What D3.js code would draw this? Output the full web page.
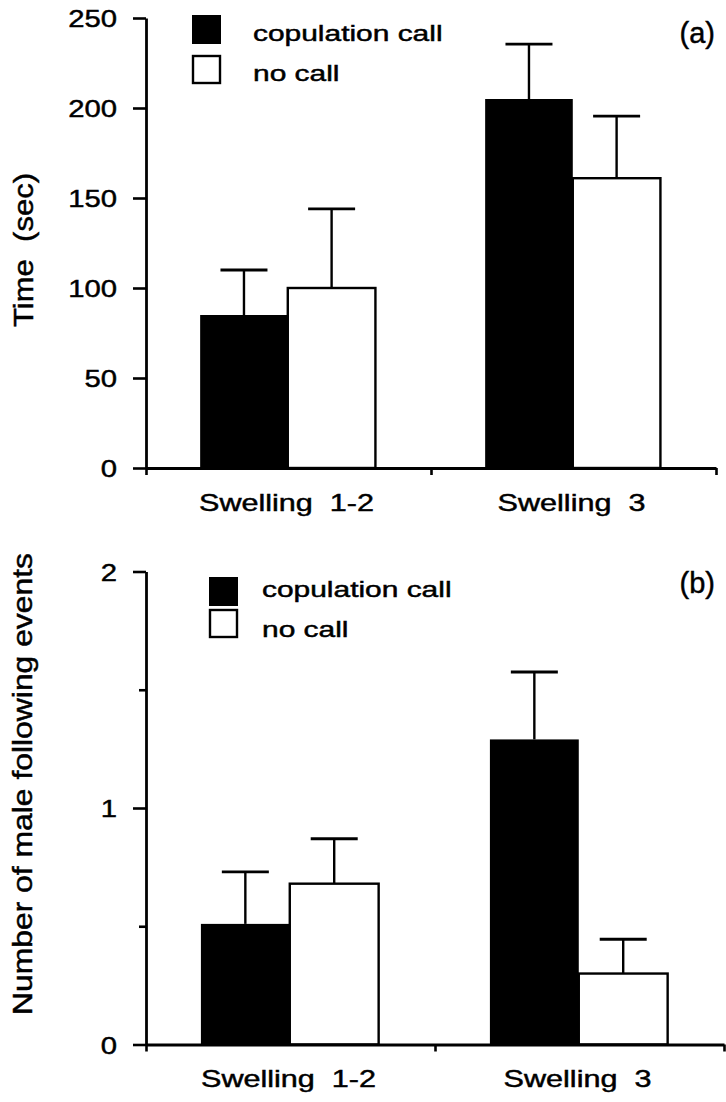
<!DOCTYPE html>
<html>
<head>
<meta charset="utf-8">
<script src="https://cdn.jsdelivr.net/npm/d3@7"></script>
<style>
  body { margin: 0; background: #fff; }
  text { font-family: "Liberation Sans", Arial, Helvetica, sans-serif; fill: #000;
         stroke: #000; stroke-width: 0.45px; white-space: pre; }
</style>
</head>
<body>
<div id="vis"></div>
<script>
const WIDTH = 726;
const HEIGHT = 1102;

const CATEGORIES = ["Swelling  1-2", "Swelling  3"];
const SERIES = ["copulation call", "no call"];

// (a) time in seconds, mean and SE
const TIME_CALL = [85, 205];
const TIME_CALL_SE = [25, 30.5];
const TIME_NOCALL = [100, 161];
const TIME_NOCALL_SE = [44, 34.5];
const TIME_TICKS = [0, 50, 100, 150, 200, 250];

// (b) number of male following events, mean and SE
const FOLLOW_CALL = [0.51, 1.29];
const FOLLOW_CALL_SE = [0.22, 0.285];
const FOLLOW_NOCALL = [0.68, 0.30];
const FOLLOW_NOCALL_SE = [0.19, 0.145];
const FOLLOW_TICKS = [0, 1, 2];
const FOLLOW_MINOR = [0.5, 1.5];

const svg = d3.select("#vis")
  .append("svg")
    .attr("width", WIDTH)
    .attr("height", HEIGHT)
    .style("background", "#fff");

// the original typeface is a wide Helvetica, so text gets squeezed out horizontally
function stretchText(sel, txt, x, y, size, sx, anchor, rot) {
  return sel.append("text")
    .attr("transform", "translate(" + x + "," + y + ")" + (rot ? " rotate(" + rot + ")" : "") + " scale(" + sx + ",1)")
    .attr("text-anchor", anchor)
    .attr("font-size", size)
    .text(txt);
}

function drawPanel(cfg) {
  const g = svg.append("g");

  const Y = d3.scaleLinear().domain(cfg.domain).range([cfg.y0, cfg.y1]);
  const X = d3.scaleBand().domain(CATEGORIES).range([cfg.x0, cfg.x1]);
  const XS = d3.scaleBand().domain(SERIES)
               .range([0.19 * X.bandwidth(), 0.805 * X.bandwidth()]);

  const rows = [];
  CATEGORIES.forEach((c, i) => {
    rows.push({cat: c, series: SERIES[0], mean: cfg.call[i], se: cfg.callSE[i]});
    rows.push({cat: c, series: SERIES[1], mean: cfg.nocall[i], se: cfg.nocallSE[i]});
  });

  // error bars (upper only)
  const err = g.selectAll(".err").data(rows).enter().append("g");
  err.append("line")
     .attr("x1", d => X(d.cat) + XS(d.series) + XS.bandwidth() / 2)
     .attr("x2", d => X(d.cat) + XS(d.series) + XS.bandwidth() / 2)
     .attr("y1", d => Y(d.mean))
     .attr("y2", d => Y(d.mean + d.se))
     .attr("stroke", "#000").attr("stroke-width", 2.4);
  err.append("line")
     .attr("x1", d => X(d.cat) + XS(d.series) + XS.bandwidth() / 2 - 23.5)
     .attr("x2", d => X(d.cat) + XS(d.series) + XS.bandwidth() / 2 + 23.5)
     .attr("y1", d => Y(d.mean + d.se))
     .attr("y2", d => Y(d.mean + d.se))
     .attr("stroke", "#000").attr("stroke-width", 2.8);

  // bars
  g.selectAll(".bar").data(rows).enter().append("rect")
     .attr("x", d => X(d.cat) + XS(d.series))
     .attr("width", XS.bandwidth())
     .attr("y", d => Y(d.mean))
     .attr("height", d => Y(0) - Y(d.mean))
     .attr("fill", d => d.series === SERIES[0] ? "#000" : "#fff")
     .attr("stroke", "#000")
     .attr("stroke-width", d => d.series === SERIES[0] ? 0 : 2.4);

  // y axis
  const yAxis = g.append("g")
     .attr("transform", "translate(" + cfg.x0 + ",0)")
     .call(d3.axisLeft(Y).tickValues(cfg.ticks).tickSize(13).tickSizeOuter(0)
             .tickFormat(d3.format("d")));
  yAxis.select(".domain").attr("stroke-width", 2.8);
  yAxis.selectAll(".tick line").attr("stroke-width", 2.6);
  yAxis.selectAll(".tick text")
     .attr("x", 0).attr("dy", "0.36em")
     .attr("text-anchor", "end")
     .attr("font-size", 24)
     .attr("font-family", "'Liberation Sans', Arial, sans-serif")
     .attr("transform", "translate(-29,0) scale(1.22,1)");

  if (cfg.minor) {
    const yMinor = g.append("g")
       .attr("transform", "translate(" + cfg.x0 + ",0)")
       .call(d3.axisLeft(Y).tickValues(cfg.minor).tickSize(7).tickFormat(""));
    yMinor.select(".domain").remove();
    yMinor.selectAll(".tick line").attr("stroke-width", 2.6);
  }

  // x axis: ticks mark the category boundaries
  const XB = d3.scaleLinear().domain([0, CATEGORIES.length]).range([cfg.x0, cfg.x1]);
  const xAxis = g.append("g")
     .attr("transform", "translate(0," + cfg.y0 + ")")
     .call(d3.axisBottom(XB).tickValues(d3.range(CATEGORIES.length + 1))
             .tickSize(7).tickSizeOuter(0).tickFormat(""));
  xAxis.select(".domain").attr("stroke-width", 2.8);
  xAxis.selectAll(".tick line").attr("stroke-width", 2.6);

  CATEGORIES.forEach(c => {
    stretchText(g, c, X(c) + X.bandwidth() / 2 - 2, cfg.xLabelY, 23, 1.33, "middle");
  });

  // y title
  stretchText(g, cfg.yTitle, cfg.yTitleX, cfg.yTitleY, 27, cfg.yTitleSx, "middle", -90);

  // panel letter
  stretchText(g, cfg.letter, 715, cfg.letterY, 29, 1.0, "end");

  // legend
  const L = cfg.legend;
  g.append("rect").attr("x", L.x).attr("y", L.y1).attr("width", 29).attr("height", 29)
     .attr("fill", "#000");
  g.append("rect").attr("x", L.x + 1).attr("y", L.y2 + 1).attr("width", 27).attr("height", 27)
     .attr("fill", "#fff").attr("stroke", "#000").attr("stroke-width", 2.4);
  stretchText(g, SERIES[0], L.tx, L.b1, 22, 1.36, "start");
  stretchText(g, SERIES[1], L.tx, L.b2, 22, 1.36, "start");
}

drawPanel({
  domain: [0, 250], ticks: TIME_TICKS,
  x0: 146, x1: 716, y0: 468, y1: 18,
  call: TIME_CALL, callSE: TIME_CALL_SE,
  nocall: TIME_NOCALL, nocallSE: TIME_NOCALL_SE,
  xLabelY: 511,
  yTitle: "Time  (sec)", yTitleX: 33, yTitleY: 250, yTitleSx: 1.15,
  letter: "(a)", letterY: 43,
  legend: {x: 192, y1: 15, y2: 55, tx: 253, b1: 40.5, b2: 81}
});

drawPanel({
  domain: [0, 2], ticks: FOLLOW_TICKS, minor: FOLLOW_MINOR,
  x0: 146, x1: 724, y0: 1044.5, y1: 571.5,
  call: FOLLOW_CALL, callSE: FOLLOW_CALL_SE,
  nocall: FOLLOW_NOCALL, nocallSE: FOLLOW_NOCALL_SE,
  xLabelY: 1087,
  yTitle: "Number of male following events", yTitleX: 32, yTitleY: 784, yTitleSx: 1.18,
  letter: "(b)", letterY: 593,
  legend: {x: 209, y1: 577, y2: 609, tx: 262, b1: 596.5, b2: 636.5}
});
</script>
</body>
</html>
